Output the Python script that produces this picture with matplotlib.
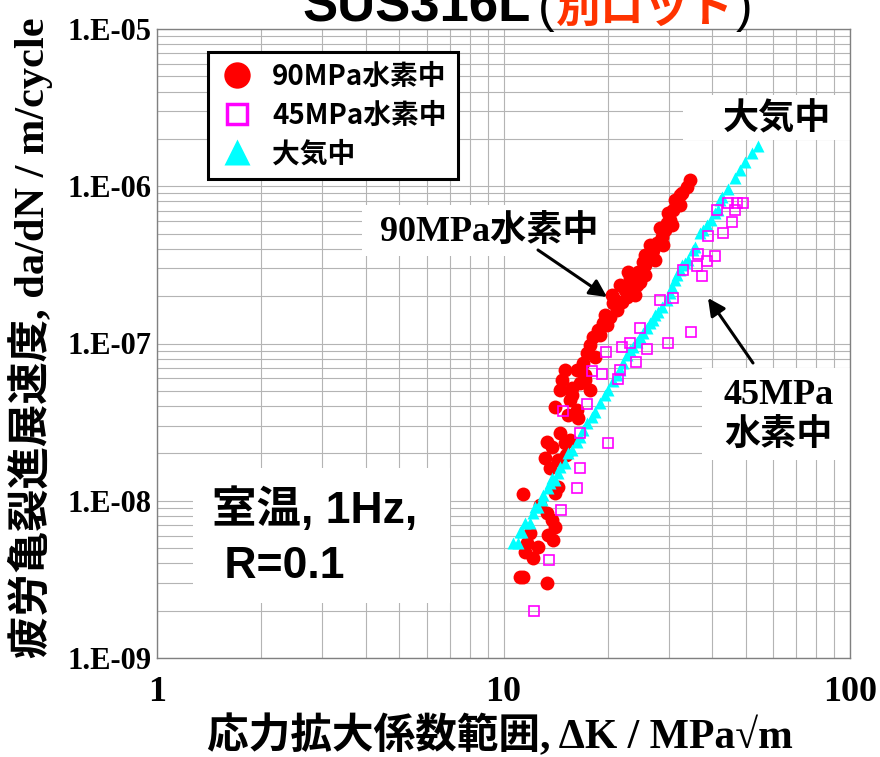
import numpy as np
import matplotlib
matplotlib.use('Agg')
import matplotlib.pyplot as plt
from matplotlib.lines import Line2D
from matplotlib.patches import Rectangle
from matplotlib.ticker import LogLocator, FuncFormatter, NullFormatter, FixedLocator

# ---------------- data ----------------
dk_90 = [34.54, 33.86, 32.75, 31.68, 30.85, 30.24, 29.65, 29.26, 28.68, 27.74, 27.01, 26.83,
         26.12, 25.61, 25.27, 25.10, 24.77, 24.45, 24.29, 23.49, 23.18, 22.72, 21.98, 20.70,
         21.26, 20.30, 19.37, 18.74, 18.13, 17.77, 17.42, 18.37, 16.96, 16.30, 15.05, 14.75,
         16.63, 14.56, 17.77, 15.55, 14.08, 16.30, 16.41, 14.56, 15.55, 13.35, 15.05, 13.80,
         13.18, 14.37, 13.62, 14.37, 14.08, 11.39, 13.35, 13.80, 14.08, 11.93, 13.44, 13.90,
         11.69, 12.58, 11.54, 12.17, 11.39, 11.16, 13.35,
         19.63, 20.98, 22.41, 23.96, 18.99, 19.89, 17.19, 15.77, 15.15, 12.74,
         20.56, 21.69, 22.87, 25.61, 26.48, 28.29, 29.84, 31.26, 32.31,
         23.96, 25.61, 27.37, 28.86, 30.65, 32.31, 15.77, 17.19, 15.35]
rate_90 = [1.096e-6, 9.89e-7, 9.06e-7, 7.94e-7, 7.06e-7, 6.10e-7, 5.84e-7, 5.27e-7, 4.76e-7,
           4.36e-7, 3.93e-7, 3.76e-7, 3.55e-7, 3.16e-7, 3.30e-7, 2.81e-7, 2.46e-7, 2.85e-7,
           2.36e-7, 2.19e-7, 2.61e-7, 1.98e-7, 1.84e-7, 1.81e-7, 1.63e-7, 1.47e-7, 1.35e-7,
           1.22e-7, 1.10e-7, 9.78e-8, 8.70e-8, 8.21e-8, 7.52e-8, 6.78e-8, 6.78e-8, 5.86e-8,
           5.61e-8, 5.06e-8, 5.06e-8, 4.37e-8, 3.95e-8, 3.78e-8, 3.36e-8, 2.70e-8, 2.43e-8,
           2.36e-8, 2.33e-8, 2.20e-8, 1.87e-8, 1.82e-8, 1.62e-8, 1.22e-8, 1.12e-8, 1.10e-8,
           8.36e-9, 7.54e-9, 6.81e-9, 6.23e-9, 6.06e-9, 5.63e-9, 5.39e-9, 5.08e-9, 4.72e-9,
           4.32e-9, 3.27e-9, 3.27e-9, 3.00e-9,
           1.52e-7, 1.89e-7, 2.19e-7, 2.53e-7, 1.13e-7, 1.31e-7, 6.30e-8, 4.70e-8, 1.95e-8, 9.40e-9,
           2.03e-7, 2.36e-7, 2.85e-7, 3.65e-7, 4.23e-7, 5.43e-7, 6.76e-7, 8.18e-7, 8.80e-7,
           2.03e-7, 2.73e-7, 3.40e-7, 4.23e-7, 5.67e-7, 7.60e-7, 5.21e-8, 5.86e-8, 3.51e-8]

dk_45 = [44.46, 47.20, 49.12, 46.58, 41.33, 45.66, 43.01, 38.93, 40.78, 36.43, 38.67, 36.19,
         37.41, 32.97, 30.85, 28.29, 34.77, 29.84, 24.77, 23.18, 21.98, 25.95, 19.76, 24.12,
         18.01, 19.24, 21.69, 21.40, 14.85, 17.42, 16.63, 20.03, 16.63, 16.30, 14.66, 13.53, 12.25]
rate_45 = [7.82e-7, 7.82e-7, 7.82e-7, 7.06e-7, 7.06e-7, 5.93e-7, 5.04e-7, 4.83e-7, 3.60e-7,
           3.71e-7, 3.35e-7, 3.11e-7, 2.69e-7, 2.93e-7, 1.95e-7, 1.89e-7, 1.18e-7, 1.01e-7,
           1.25e-7, 1.01e-7, 9.50e-8, 9.23e-8, 8.83e-8, 7.63e-8, 6.69e-8, 6.40e-8, 6.78e-8,
           5.95e-8, 3.72e-8, 4.12e-8, 2.70e-8, 2.33e-8, 1.62e-8, 1.21e-8, 8.73e-9, 4.20e-9, 1.99e-9]

dk_air = [10.65, 11.01, 11.16, 11.31, 11.54, 11.93, 12.17, 12.33, 12.58, 12.92, 13.00, 13.44,
          13.62, 13.80, 14.08, 14.37, 14.56, 15.05, 15.35, 15.77, 16.30, 16.63, 16.96, 17.42,
          18.01, 18.37, 18.99, 19.63, 20.03, 20.70, 21.26, 21.69, 22.13, 22.72, 23.18, 23.65,
          24.29, 24.77, 25.27, 25.95, 26.48, 27.01, 27.37, 27.92, 28.68, 29.65, 30.24, 30.65,
          31.26, 31.68, 32.31, 32.75, 33.41, 34.08, 35.24, 35.71, 36.91, 37.66, 38.67, 39.71,
          40.78, 41.60, 42.16, 42.72, 44.46, 46.58, 48.15, 49.77, 52.14, 54.27]
rate_air = [5.39e-9, 5.39e-9, 6.33e-9, 6.33e-9, 7.22e-9, 7.22e-9, 8.36e-9, 9.12e-9, 9.12e-9,
            1.01e-8, 1.09e-8, 1.21e-8, 1.30e-8, 1.40e-8, 1.36e-8, 1.50e-8, 1.64e-8, 1.74e-8,
            2.01e-8, 2.10e-8, 2.36e-8, 2.54e-8, 2.82e-8, 3.12e-8, 3.41e-8, 3.67e-8, 4.18e-8,
            4.70e-8, 5.06e-8, 5.77e-8, 6.30e-8, 6.78e-8, 7.52e-8, 8.45e-8, 9.09e-8, 9.50e-8,
            1.02e-7, 1.10e-7, 1.17e-7, 1.25e-7, 1.35e-7, 1.41e-7, 1.52e-7, 1.59e-7, 1.71e-7,
            1.89e-7, 2.10e-7, 2.29e-7, 2.53e-7, 2.73e-7, 2.93e-7, 3.16e-7, 3.25e-7, 3.40e-7,
            3.93e-7, 4.11e-7, 5.04e-7, 5.27e-7, 5.67e-7, 6.10e-7, 6.76e-7, 7.06e-7, 8.18e-7,
            8.54e-7, 9.61e-7, 1.128e-6, 1.27e-6, 1.426e-6, 1.627e-6, 1.803e-6]

series_labels = ['90MPa水素中', '45MPa水素中', '大気中']
x_ticks = [1, 10, 100]
y_ticks = [1e-9, 1e-8, 1e-7, 1e-6, 1e-5]

# ---------------- style ----------------
SERIF = ['Liberation Serif', 'Noto Sans CJK JP']
SANS = ['Liberation Sans', 'Noto Sans CJK JP']
GOTH = ['Noto Sans CJK JP', 'DejaVu Sans']
RED, MAG, CYAN = '#ff0000', '#ff00ff', '#00ffff'

W, H = 880, 757
fig = plt.figure(figsize=(W / 100, H / 100), dpi=100)
L, R, T, B = 157, 850, 29, 658
ax = fig.add_axes([L / W, 1 - B / H, (R - L) / W, (B - T) / H])
ax.set_xscale('log')
ax.set_yscale('log')
ax.set_xlim(1, 100)
ax.set_ylim(1e-9, 1e-5)

ax.set_axisbelow(True)
ax.xaxis.set_major_locator(FixedLocator(x_ticks))
ax.yaxis.set_major_locator(FixedLocator(y_ticks))
ax.xaxis.set_minor_locator(LogLocator(base=10, subs=np.arange(2, 10)))
ax.yaxis.set_minor_locator(LogLocator(base=10, subs=np.arange(2, 10)))
ax.xaxis.set_minor_formatter(NullFormatter())
ax.yaxis.set_minor_formatter(NullFormatter())
ax.xaxis.set_major_formatter(FuncFormatter(lambda v, _: f"{v:g}"))
ax.yaxis.set_major_formatter(FuncFormatter(lambda v, _: f"1.E-{-int(round(np.log10(v))):02d}"))
ax.grid(True, which='both', color='#b4b4b4', lw=0.8)
ax.tick_params(which='both', length=0)
ax.tick_params(axis='x', pad=13)
ax.tick_params(axis='y', pad=4)
for lab in ax.get_xticklabels():
    lab.set_fontfamily(SERIF); lab.set_fontweight('bold'); lab.set_fontsize(26)
for lab in ax.get_yticklabels():
    lab.set_fontfamily(SERIF); lab.set_fontweight('bold'); lab.set_fontsize(22)
for sp in ax.spines.values():
    sp.set_color('#808080'); sp.set_linewidth(1.0)

# white text boxes covering the grid
for (x0, y0, x1, y1) in [(362, 205, 608, 256), (683, 95, 850, 140),
                         (702, 368, 850, 460), (193, 468, 450, 603)]:
    ax.add_patch(Rectangle(((x0 - L) / (R - L), (B - y1) / (B - T)),
                           (x1 - x0) / (R - L), (y1 - y0) / (B - T),
                           transform=ax.transAxes, facecolor='white', edgecolor='none', zorder=1))

# data
ax.plot(dk_90, rate_90, 'o', color=RED, ms=10, mec='none', zorder=3)
ax.plot(dk_air, rate_air, '^', color=CYAN, ms=8, mec='none', zorder=4)
ax.plot(dk_45, rate_45, 's', mfc='none', mec=MAG, ms=7, mew=1.2, zorder=5)

def afx(px):
    return (px - L) / (R - L)

def afy(py):
    return (B - py) / (B - T)

# annotations
ax.text(afx(489), afy(233), '90MPa水素中', transform=ax.transAxes, ha='center', va='center',
        fontsize=26, fontweight='bold', fontfamily=SERIF, zorder=6)
ax.text(afx(777), afy(120), '大気中', transform=ax.transAxes, ha='center', va='center',
        fontsize=26, fontweight='bold', fontfamily=SANS, zorder=6)
ax.text(afx(779), afy(395), '45MPa', transform=ax.transAxes, ha='center', va='center',
        fontsize=26, fontweight='bold', fontfamily=SERIF, zorder=6)
ax.text(afx(778), afy(437), '水素中', transform=ax.transAxes, ha='center', va='center',
        fontsize=26, fontweight='bold', fontfamily=SERIF, zorder=6)
ax.text(afx(212), afy(510), '室温, 1Hz,', transform=ax.transAxes, ha='left', va='center',
        fontsize=32, fontweight='bold', fontfamily=SANS, zorder=6)
ax.text(afx(212), afy(567), ' R=0.1', transform=ax.transAxes, ha='left', va='center',
        fontsize=32, fontweight='bold', fontfamily=SANS, zorder=6)

arrow = dict(arrowstyle='-|>', color='black', lw=2.2, mutation_scale=26, shrinkA=0, shrinkB=0)
ax.annotate('', xy=(afx(607), afy(297)), xytext=(afx(538), afy(250)),
            xycoords='axes fraction', textcoords='axes fraction', arrowprops=arrow, zorder=6)
ax.annotate('', xy=(afx(708), afy(298)), xytext=(afx(753), afy(363)),
            xycoords='axes fraction', textcoords='axes fraction', arrowprops=arrow, zorder=6)

# legend
handles = [Line2D([], [], ls='none', marker='o', ms=19, color=RED, mec='none'),
           Line2D([], [], ls='none', marker='s', ms=15, mfc='white', mec=MAG, mew=2.5),
           Line2D([], [], ls='none', marker='^', ms=19, color=CYAN, mec='none')]
leg = ax.legend(handles, series_labels, loc='upper left',
                bbox_to_anchor=(afx(208), afy(52)), borderaxespad=0,
                prop={'family': GOTH, 'weight': 'bold', 'size': 20},
                frameon=True, fancybox=False, framealpha=1, edgecolor='black',
                handlelength=1.3, handletextpad=0.6, labelspacing=0.38, borderpad=0.4)
leg.get_frame().set_linewidth(2.2)
leg.set_zorder(7)

# axis labels
fig.text(30 / W, 1 - 338 / H, '疲労亀裂進展速度, da/dN / m/cycle', rotation=90,
         ha='center', va='center', fontsize=30.5, fontweight='bold', fontfamily=SERIF)
fig.text(500 / W, 1 - 736 / H, '応力拡大係数範囲, ΔK / MPa√m',
         ha='center', va='center', fontsize=30, fontweight='bold', fontfamily=SERIF)

# title (partially clipped at top, as in the reference)
ty = 1 - 22 / H
fig.text(302 / W, ty, 'SUS316L', ha='left', va='baseline', fontsize=38,
         fontweight='bold', fontfamily=SANS)
fig.text(538 / W, ty, '(', ha='left', va='baseline', fontsize=36,
         fontfamily=SANS)
fig.text(556 / W, ty, '別ロット', ha='left', va='baseline', fontsize=32,
         fontweight='bold', fontfamily=GOTH, color='#ff3300')
fig.text(736 / W, ty, ')', ha='left', va='baseline', fontsize=36,
         fontfamily=SANS)

fig.savefig('out.png', dpi=100)
